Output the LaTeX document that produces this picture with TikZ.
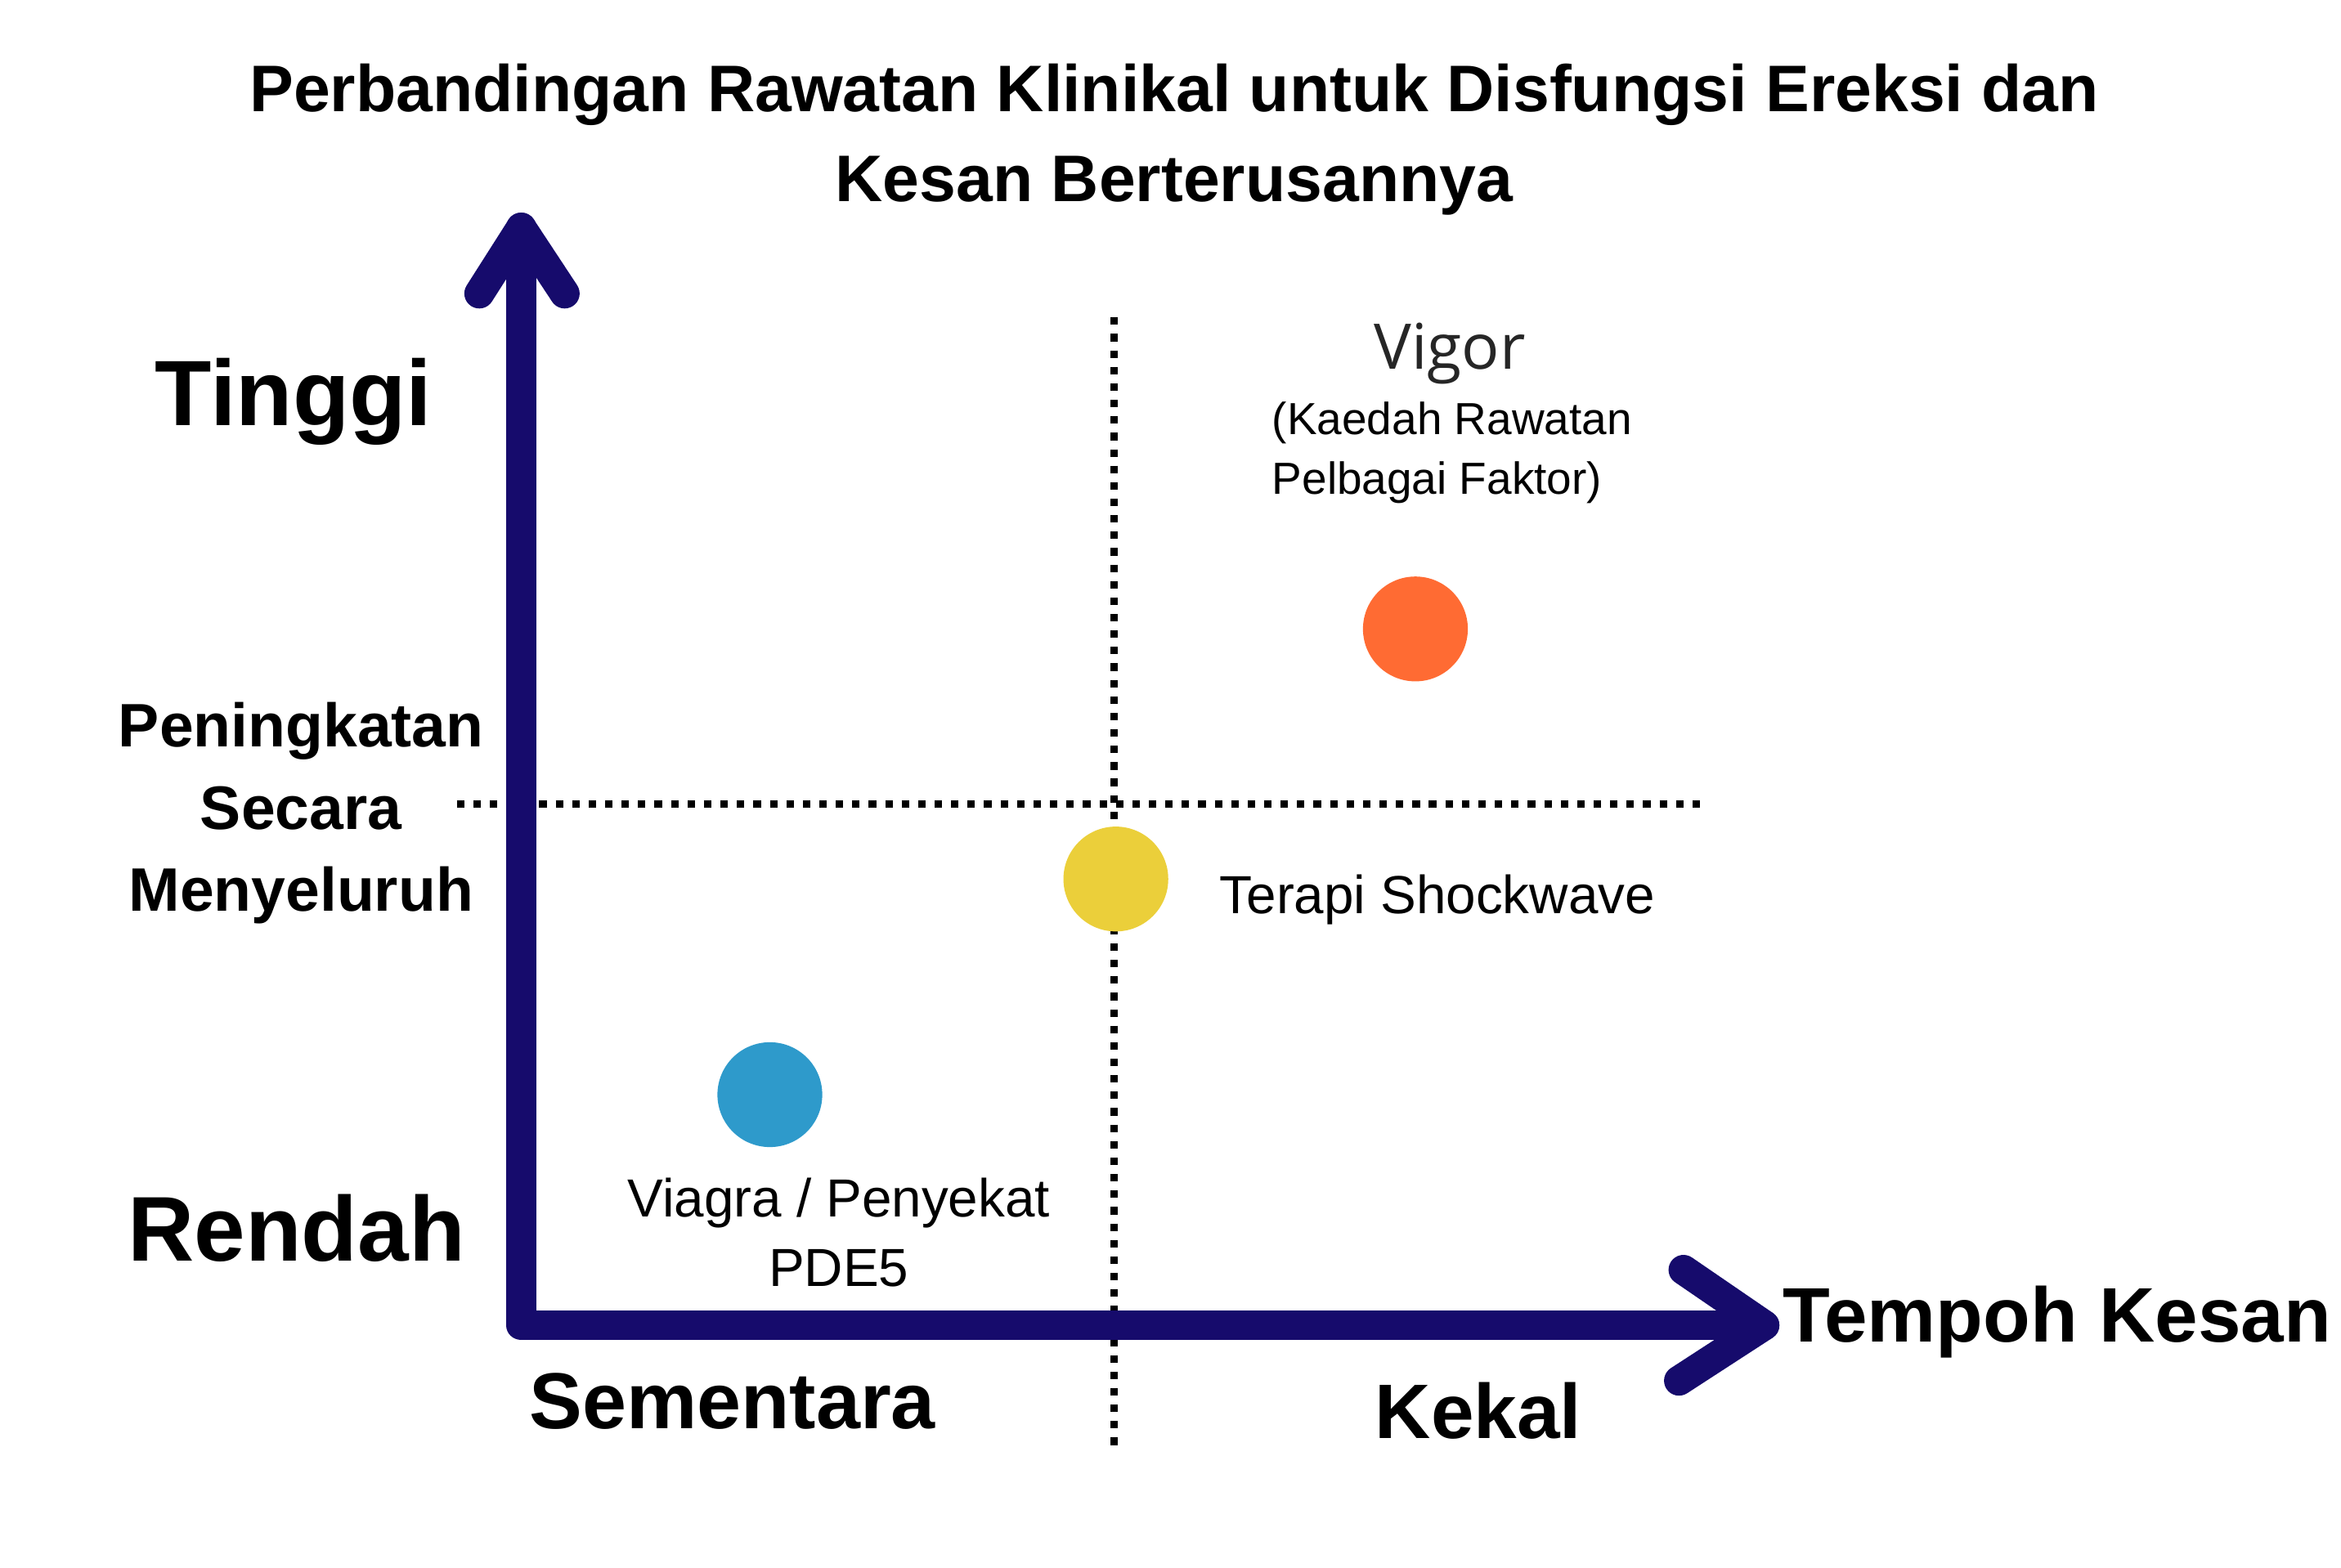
\documentclass[tikz,border=0pt]{standalone}
\usepackage{fontspec}
\setmainfont{Liberation Sans}
\newfontfamily\vigorf{Open Sans}
\definecolor{axiscol}{HTML}{160B6C}
\definecolor{orangec}{HTML}{FF6B33}
\definecolor{yellowc}{HTML}{EBCF3A}
\definecolor{bluec}{HTML}{2E9ACB}
\tikzset{
  axisline/.style={draw=axiscol, line width=10pt, line cap=round, line join=round},
  dotline/.style={draw=black, line width=2.5pt, dash pattern=on 2.5pt off 3pt},
  dot/.style={circle, minimum size=35pt, inner sep=0pt},
  boldlbl/.style={font=\bfseries, text=black, inner sep=0pt, align=center},
  reglbl/.style={font=\fontsize{17.9}{23}\selectfont, text=black, inner sep=0pt},
}
\begin{document}
\begin{tikzpicture}[x=0.5pt,y=-0.5pt]
\useasboundingbox (0,0) rectangle (1563,1047);
% title
\node[boldlbl, font=\bfseries\fontsize{22}{30}\selectfont, anchor=center] (title) at (784,93)
  {Perbandingan Rawatan Klinikal untuk Disfungsi Ereksi dan\\Kesan Berterusannya};
% dotted guide lines
\coordinate (vtop) at (744,212);
\coordinate (vbot) at (744,968);
\coordinate (hl) at (305,537);
\coordinate (hr) at (1140,537);
\draw[dotline] (vtop) -- (vbot);
\draw[dotline] (hl) -- (hr);
% axes
\coordinate (O) at (348,885);
\coordinate (ytip) at (348,152);
\coordinate (xtip) at (1178,885);
\coordinate (ya1) at (320,196);
\coordinate (ya2) at (377,196);
\coordinate (xa1) at (1124,848);
\coordinate (xa2) at (1121,922);
\draw[axisline] (ytip) -- (O) -- (xtip);
\draw[axisline] (ya1) -- (ytip) -- (ya2);
\draw[axisline] (xa1) -- (xtip) -- (xa2);
% dots
\node[dot, fill=orangec] (vigor) at (945,420) {};
\node[dot, fill=yellowc] (shock) at (745,587) {};
\node[dot, fill=bluec] (viagra) at (514,731) {};
% axis labels
\node[boldlbl, font=\bfseries\fontsize{31}{38}\selectfont] (tinggi) at (196,268) {Tinggi};
\node[boldlbl, font=\bfseries\fontsize{30.7}{38}\selectfont] (rendah) at (198,820) {Rendah};
\node[boldlbl, font=\bfseries\fontsize{20.5}{27.5}\selectfont] (pening) at (201,543) {Peningkatan\\Secara\\Menyeluruh};
\node[boldlbl, font=\bfseries\fontsize{26.5}{30}\selectfont] (sement) at (489,936) {Sementara};
\node[boldlbl, font=\bfseries\fontsize{25.8}{30}\selectfont] (kekal) at (987,942) {Kekal};
\node[boldlbl, font=\bfseries\fontsize{25.8}{30}\selectfont, anchor=west] (tempoh) at (1190,883) {Tempoh Kesan};
% point labels
\node[reglbl, font=\vigorf\fontsize{21}{25}\selectfont, text=black!85] (vigorlbl) at (968,236) {Vigor};
\node[reglbl, anchor=north west, align=left, font=\fontsize{15}{20}\selectfont] (kaedah) at (849,268) {(Kaedah Rawatan\\Pelbagai Faktor)};
\node[reglbl, anchor=west] (shocklbl) at (814,601) {Terapi Shockwave};
\node[reglbl, align=center, font=\fontsize{17.9}{23}\selectfont] (viagralbl) at (560,823) {Viagra / Penyekat\\PDE5};
\end{tikzpicture}
\end{document}
